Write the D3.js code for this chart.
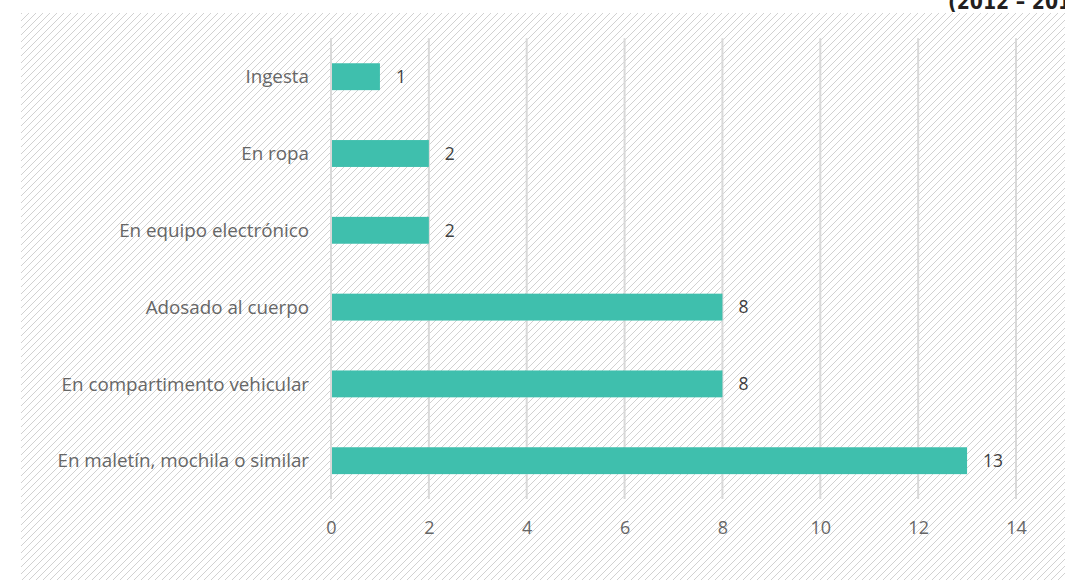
<!DOCTYPE html>
<html><head><meta charset="utf-8">
<script src="https://cdn.jsdelivr.net/npm/d3@7"></script>
<style>body{margin:0;background:#fff;overflow:hidden}</style>
</head><body>
<svg id="c" width="1065" height="580"></svg>
<script>
const categories = ["Ingesta","En ropa","En equipo electrónico","Adosado al cuerpo","En compartimento vehicular","En maletín, mochila o similar"];
const values = [1,2,2,8,8,13];
const xTicks = [0,2,4,6,8,10,12,14];
const titleText = "(2012 – 2017)";

const svg = d3.select("#c");
const defs = svg.append("defs");
const p = defs.append("pattern").attr("id","hatch").attr("patternUnits","userSpaceOnUse")
  .attr("width",7).attr("height",7);
p.append("path").attr("d","M-1,1 l2,-2 M0,7 l7,-7 M6,8 l2,-2")
  .attr("stroke","#cccccc").attr("stroke-width",0.9);

svg.append("rect").attr("x",21).attr("y",13).attr("width",1065-21).attr("height",580-13).attr("fill","url(#hatch)");

svg.append("text").attr("x",948).attr("y",9).text(titleText)
  .attr("font-family","'Liberation Sans Narrow','DejaVu Sans Condensed',sans-serif")
  .attr("font-weight","bold").attr("font-size",21).attr("fill","#231f20");

const x = d3.scaleLinear().domain([0,14]).range([331,1016]);
const y = d3.scaleBand().domain(categories).range([38.3,499.1]).paddingInner(0.65).paddingOuter(0.325);

const font = "'Open Sans',sans-serif";
const g = svg.append("g");
g.selectAll("line.grid").data(xTicks).join("line")
  .attr("x1",d=>x(d)).attr("x2",d=>x(d)).attr("y1",y.range()[0]).attr("y2",y.range()[1])
  .attr("stroke","#d9d9d9").attr("stroke-width",2);

g.selectAll("rect.bar").data(values).join("rect")
  .attr("x",x(0)+1).attr("y",(d,i)=>y(categories[i]))
  .attr("width",d=>x(d)-x(0)-1).attr("height",y.bandwidth())
  .attr("fill","#3fbfad");

g.selectAll("text.val").data(values).join("text")
  .attr("x",d=>x(d)+16).attr("y",(d,i)=>y(categories[i])+y.bandwidth()/2)
  .attr("dy","0.36em").text(d=>d)
  .attr("font-family",font).attr("font-size",17.5).attr("fill","#404040");

const xAxis = d3.axisBottom(x).tickValues(xTicks).tickSize(0).tickPadding(0);
const ax = svg.append("g").attr("transform","translate(0,528)").call(xAxis);
ax.select(".domain").remove();
ax.selectAll("text").attr("font-family",font).attr("font-size",18).attr("fill","#666666").attr("dy","0.36em");

const yAxis = d3.axisLeft(y).tickSize(0).tickPadding(22);
const ay = svg.append("g").attr("transform",`translate(${x(0)},0)`).call(yAxis);
ay.select(".domain").remove();
ay.selectAll("text").attr("font-family",font).attr("font-size",18.8).attr("fill","#666666").attr("dy","0.36em");
</script>
</body></html>
